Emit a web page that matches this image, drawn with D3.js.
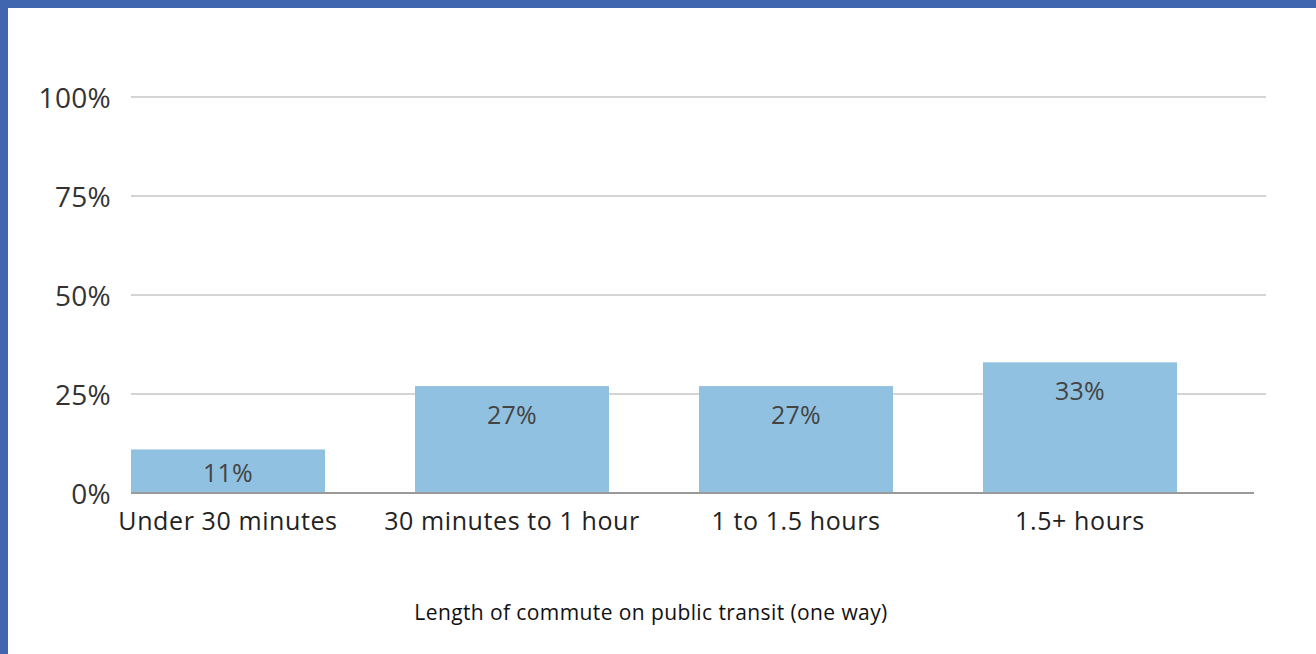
<!DOCTYPE html>
<html><head><meta charset="utf-8">
<script src="https://cdn.jsdelivr.net/npm/d3@7"></script>
<style>html,body{margin:0;padding:0;background:#fff;}svg{display:block;}</style>
</head><body>
<svg id="c" width="1316" height="654"></svg>
<script>
const categories = ["Under 30 minutes", "30 minutes to 1 hour", "1 to 1.5 hours", "1.5+ hours"];
const values = [11, 27, 27, 33];
const tickValues = [0, 25, 50, 75, 100];
const title = "Length of commute on public transit (one way)";

const svg = d3.select("#c");
svg.append("rect").attr("x",0).attr("y",0).attr("width",1316).attr("height",654).attr("fill","#4166B0");
svg.append("rect").attr("x",8).attr("y",8).attr("width",1308).attr("height",646).attr("fill","#fff");

const y = d3.scaleLinear().domain([0,100]).range([493,97]);
const pi = 90/284;
const x = d3.scaleBand().domain(categories).range([131,1267]).paddingInner(pi).paddingOuter(pi/2).align(0);

const font = "'Open Sans', sans-serif";

// y axis labels
const yAxis = d3.axisLeft(y).tickValues(tickValues).tickFormat(d => d + "%").tickSize(0).tickPadding(20);
const gy = svg.append("g").attr("transform","translate(131,0)").call(yAxis);
gy.select(".domain").remove();
gy.selectAll("text").attr("font-family",font).attr("font-size",28).attr("fill","#333")
  .attr("x",-20).attr("dy","0.38em").attr("letter-spacing","0.3px");

// gridlines
svg.append("g").selectAll("line").data(tickValues.filter(d=>d>0)).join("line")
  .attr("x1",131).attr("x2",1266).attr("y1",d=>y(d)).attr("y2",d=>y(d))
  .attr("stroke","#d4d4d4").attr("stroke-width",2);

// bars
svg.append("g").selectAll("rect").data(values).join("rect")
  .attr("x",(d,i)=>x(categories[i])).attr("width",x.bandwidth())
  .attr("y",d=>y(d)).attr("height",d=>y(0)-y(d)).attr("fill","#91C1E0");

// baseline
svg.append("line").attr("x1",131).attr("x2",1254).attr("y1",y(0)).attr("y2",y(0))
  .attr("stroke","#9a9a9a").attr("stroke-width",2);

// value labels
svg.append("g").selectAll("text").data(values).join("text")
  .attr("x",(d,i)=>x(categories[i])+x.bandwidth()/2)
  .attr("y",d=>Math.min(y(d)+38, (y(d)+y(0))/2+11))
  .attr("text-anchor","middle").attr("font-family",font).attr("font-size",25).attr("fill","#444")
  .attr("letter-spacing","0.3px")
  .text(d=>d+"%");

// x axis labels
const xAxis = d3.axisBottom(x).tickSize(0).tickPadding(0);
const gx = svg.append("g").attr("transform","translate(0,"+y(0)+")").call(xAxis);
gx.select(".domain").remove();
gx.selectAll("text").attr("font-family",font).attr("font-size",25).attr("fill","#222")
  .attr("dy",null).attr("y",37).attr("letter-spacing","0.6px");

// title
svg.append("text").attr("x",651).attr("y",620).attr("text-anchor","middle")
  .attr("font-family",font).attr("font-size",21).attr("fill","#111")
  .attr("letter-spacing","0.4px").text(title);
</script>
</body></html>
